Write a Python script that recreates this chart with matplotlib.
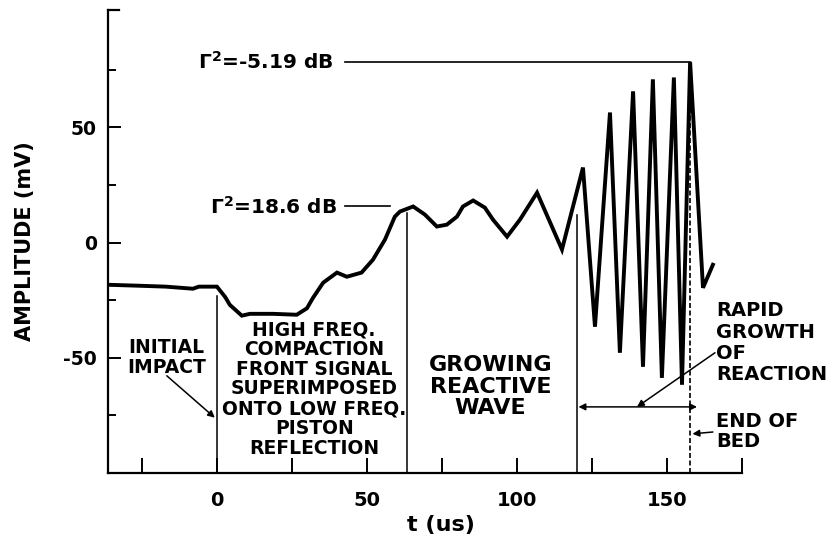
import matplotlib
matplotlib.use("Agg")
import matplotlib.pyplot as plt

plt.rcParams["font.family"] = ["DejaVu Sans"]
plt.rcParams["font.weight"] = "bold"
plt.rcParams["mathtext.default"] = "bf"
plt.rcParams["axes.unicode_minus"] = False

t_us = [-36, -26, -17, -8, -6, 0, 2.7, 4.3, 8.3, 11, 18.7, 26.6, 30, 32, 35.4,
        40, 43.3, 48.2, 52, 56, 59.3, 61, 65.4, 69.3, 73.3, 76.6, 80, 82, 85.4,
        89.3, 92, 96.7, 101, 106.7, 115, 122, 126, 131, 134.3, 138.7, 142,
        145.3, 148.3, 152.3, 155, 157.7, 162, 165.3]
amp_mv = [-18.3, -18.7, -19.1, -20, -19.1, -19.1, -23.5, -27, -31.7, -30.9,
          -30.9, -31.3, -28.5, -24, -17.4, -13, -14.8, -13, -7.4, 1.3, 11.3,
          13.5, 15.7, 12.2, 7, 7.8, 11.3, 15.7, 18.3, 15.2, 10, 2.6, 10, 21.7,
          -3, 32.6, -36.5, 56.5, -47.8, 65.7, -53.9, 70.9, -58.7, 71.7, -61.7,
          78.5, -19.6, -9.6]

# region boundaries and how high each marker line reaches
bound_t = [0, 63.3, 120]
bound_top = [-23, 13, 12.2]
end_of_bed_t = 157.7
end_of_bed_top = 78.5

# reflection levels
gamma_lo = 15.7      # level of the 18.6 dB marker
gamma_hi = 78.5      # level of the -5.19 dB marker

x_ticks = [-25, 0, 25, 50, 75, 100, 125, 150, 175]
x_labels = ["", "0", "", "50", "", "100", "", "150", ""]
y_major = [-50, 0, 50]
y_minor = [-75, -25, 25, 75]

fig = plt.figure(figsize=(8.31, 5.35), dpi=100)
ax = fig.add_axes([108 / 831, 1 - 473 / 535, 634 / 831, 463 / 535])

ymin, ymax = -100, 101
ax.set_xlim(-36.3, 175)
ax.set_ylim(ymin, ymax)

ax.plot(t_us, amp_mv, color="black", lw=2.8, solid_joinstyle="miter")

for tb, top in zip(bound_t, bound_top):
    ax.plot([tb, tb], [ymin, top], color="black", lw=1.1)
ax.plot([end_of_bed_t, end_of_bed_t], [ymin, end_of_bed_top], color="black",
        lw=1.2, ls=(0, (3, 1.5)))

# reflection coefficient markers
ax.plot([42.7, end_of_bed_t], [gamma_hi, gamma_hi], color="black", lw=1.2)
ax.plot([42.7, 57.7], [gamma_lo, gamma_lo], color="black", lw=1.2)
ax.text(39, gamma_hi, r"$\Gamma^2$=-5.19 dB", ha="right", va="center",
        fontsize=14.5)
ax.text(40, gamma_lo, r"$\Gamma^2$=18.6 dB", ha="right", va="center",
        fontsize=14.5)

# region labels
ax.text(-16.7, -50, "INITIAL\nIMPACT", ha="center", va="center",
        fontsize=13.5, linespacing=1.05)
ax.text(32.4, -63.5, "HIGH FREQ.\nCOMPACTION\nFRONT SIGNAL\nSUPERIMPOSED\n"
        "ONTO LOW FREQ.\nPISTON\nREFLECTION", ha="center", va="center",
        fontsize=13.5, linespacing=1.05)
ax.text(91.2, -62.6, "GROWING\nREACTIVE\nWAVE", ha="center", va="center",
        fontsize=16, linespacing=1.1)
ax.text(166.5, -43.5, "RAPID\nGROWTH\nOF\nREACTION", ha="left", va="center",
        fontsize=14, linespacing=1.15, clip_on=False)
ax.text(166.5, -82, "END OF\nBED", ha="left", va="center",
        fontsize=14, linespacing=1.1, clip_on=False)

arrow = dict(arrowstyle="-|>", color="black", lw=1.1, mutation_scale=10,
             shrinkA=0, shrinkB=0)
ax.annotate("", xy=(-0.7, -76), xytext=(-16.7, -57.8), arrowprops=arrow)
ax.annotate("", xy=(120.5, -71.3), xytext=(160, -71.3),
            arrowprops=dict(arrow, arrowstyle="<|-|>"))
ax.annotate("", xy=(140, -71.3), xytext=(166, -47.8), arrowprops=arrow)
ax.annotate("", xy=(158.5, -83), xytext=(165.3, -82.2), arrowprops=arrow,
            annotation_clip=False)

# axes styling
for side in ["top", "right"]:
    ax.spines[side].set_visible(False)
for side in ["left", "bottom"]:
    ax.spines[side].set_linewidth(1.6)
ax.plot([0, 0.018], [1, 1], transform=ax.transAxes, color="black", lw=1.6,
        clip_on=False)

ax.set_xticks(x_ticks)
ax.set_xticklabels(x_labels)
ax.set_yticks(y_major)
ax.set_yticks(y_minor, minor=True)
ax.tick_params(axis="x", direction="in", length=11, width=1.4, pad=13,
               labelsize=14)
ax.tick_params(axis="y", which="major", direction="in", length=9, width=1.4,
               pad=8, labelsize=13.5)
ax.tick_params(axis="y", which="minor", direction="in", length=6, width=1.4)

ax.set_ylabel("AMPLITUDE (mV)", fontsize=15, fontweight="bold")
ax.yaxis.set_label_coords(-0.115, 0.5)
ax.set_xlabel("t (us)", fontsize=16, fontweight="bold")
ax.xaxis.set_label_coords(0.525, -0.091)

fig.savefig("out.png", dpi=100)
